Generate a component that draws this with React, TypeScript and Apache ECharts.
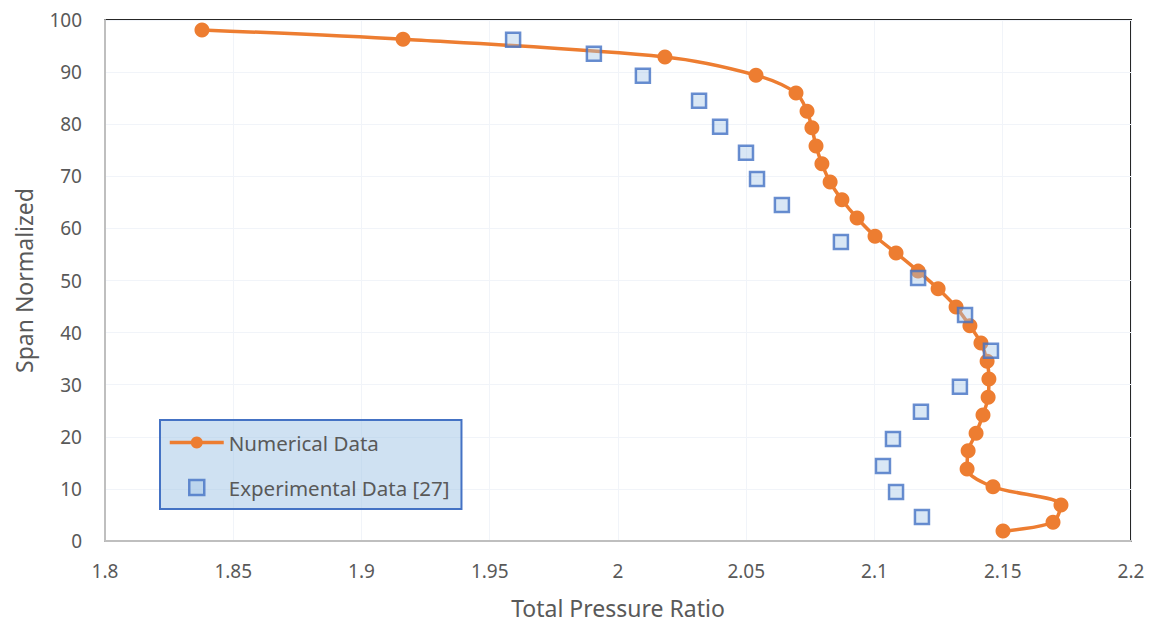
import React, { useEffect, useRef } from "react";
import * as echarts from "echarts";

const numericalX = [1.8378, 1.9162, 2.0183, 2.0538, 2.0694, 2.0737, 2.0756, 2.0772, 2.0795, 2.0827, 2.0873, 2.0932, 2.1002, 2.1084, 2.117, 2.1248, 2.1318, 2.1372, 2.1415, 2.1439, 2.1446, 2.1443, 2.1423, 2.1396, 2.1365, 2.1361, 2.1462, 2.1727, 2.1696, 2.1501];
const numericalY = [98.1, 96.3, 92.9, 89.4, 86.0, 82.5, 79.3, 75.8, 72.4, 68.9, 65.5, 62.0, 58.5, 55.3, 51.8, 48.4, 44.9, 41.3, 38.0, 34.5, 31.1, 27.6, 24.2, 20.7, 17.3, 13.8, 10.4, 6.9, 3.6, 1.9];

const experimentalX = [1.9591, 1.9906, 2.0097, 2.0316, 2.0398, 2.0499, 2.0542, 2.0639, 2.0869, 2.117, 2.1353, 2.1454, 2.1333, 2.1181, 2.1072, 2.1033, 2.1084, 2.1185];
const experimentalY = [96.2, 93.5, 89.3, 84.5, 79.5, 74.5, 69.5, 64.5, 57.4, 50.5, 43.4, 36.5, 29.6, 24.8, 19.6, 14.4, 9.4, 4.6];

const xAxisName = "Total Pressure Ratio";
const yAxisName = "Span Normalized";
const seriesNames = ["Numerical Data", "Experimental Data [27]"];

const FONT = "'Noto Sans', sans-serif";
const TEXT_COLOR = "#595959";
const ORANGE = "#ed7d31";
const BLUE = "#4472c4";
const LIGHT_BLUE = "rgba(160,195,230,0.5)";

export default function App() {
  const ref = useRef<HTMLDivElement>(null);

  useEffect(() => {
    if (!ref.current) return;
    const chart = echarts.init(ref.current, undefined, { renderer: "svg" });
    const numData = numericalX.map((x, i) => [x, numericalY[i]]);
    const expData = experimentalX.map((x, i) => [x, experimentalY[i]]);
    chart.setOption({
      animation: false,
      textStyle: { fontFamily: FONT },
      grid: {
        left: 105,
        top: 20,
        right: 27,
        bottom: 83,
        show: true,
        borderColor: "#262626",
        borderWidth: 2,
        backgroundColor: "transparent",
      },
      legend: {
        left: 160,
        top: 420,
        orient: "vertical",
        padding: [12, 12, 11, 8],
        itemGap: 24,
        itemWidth: 54,
        itemHeight: 15,
        backgroundColor: LIGHT_BLUE,
        borderColor: BLUE,
        borderWidth: 2,
        textStyle: { fontSize: 20.5, color: TEXT_COLOR, fontFamily: FONT },
        data: [
          { name: seriesNames[0], lineStyle: { width: 3.5 } },
          {
            name: seriesNames[1],
            icon: "path://M0,0 L10,0 L10,10 L0,10 Z",
            itemStyle: { color: LIGHT_BLUE, borderColor: BLUE, borderWidth: 2.5 },
          },
        ],
      },
      xAxis: {
        type: "value",
        min: 1.8,
        max: 2.2,
        interval: 0.05,
        name: xAxisName,
        nameLocation: "middle",
        nameGap: 55,
        nameTextStyle: { fontSize: 23, color: TEXT_COLOR, fontFamily: FONT },
        axisLine: { show: true, onZero: false, lineStyle: { color: "#bfbfbf", width: 2 } },
        axisTick: { show: false },
        axisLabel: {
          fontSize: 19,
          color: TEXT_COLOR,
          margin: 20,
          fontFamily: FONT,
          formatter: (v: number) => String(+v.toFixed(2)),
        },
        splitLine: { show: true, lineStyle: { color: "#f1f4f9", width: 1 } },
      },
      yAxis: {
        type: "value",
        min: 0,
        max: 100,
        interval: 10,
        name: yAxisName,
        nameLocation: "middle",
        nameGap: 70,
        nameTextStyle: { fontSize: 23, color: TEXT_COLOR, fontFamily: FONT },
        axisLine: { show: true, onZero: false, lineStyle: { color: "#bfbfbf", width: 2 } },
        axisTick: { show: false },
        axisLabel: { fontSize: 19, color: TEXT_COLOR, margin: 23, fontFamily: FONT },
        splitLine: { show: true, lineStyle: { color: "#f1f4f9", width: 1 } },
      },
      series: [
        {
          name: seriesNames[0],
          type: "line",
          data: numData,
          smooth: 0.3,
          symbol: "circle",
          symbolSize: 15,
          lineStyle: { color: ORANGE, width: 3.5 },
          itemStyle: { color: ORANGE },
          z: 2,
        },
        {
          name: seriesNames[1],
          type: "scatter",
          data: expData,
          symbol: "rect",
          symbolSize: 14,
          itemStyle: {
            color: LIGHT_BLUE,
            borderColor: BLUE,
            borderWidth: 2.5,
          },
          z: 3,
        },
      ],
    });
    return () => chart.dispose();
  }, []);

  return (
    <div
      ref={ref}
      style={{ position: "fixed", left: 0, top: 0, width: 1158, height: 624, background: "#fff" }}
    />
  );
}
